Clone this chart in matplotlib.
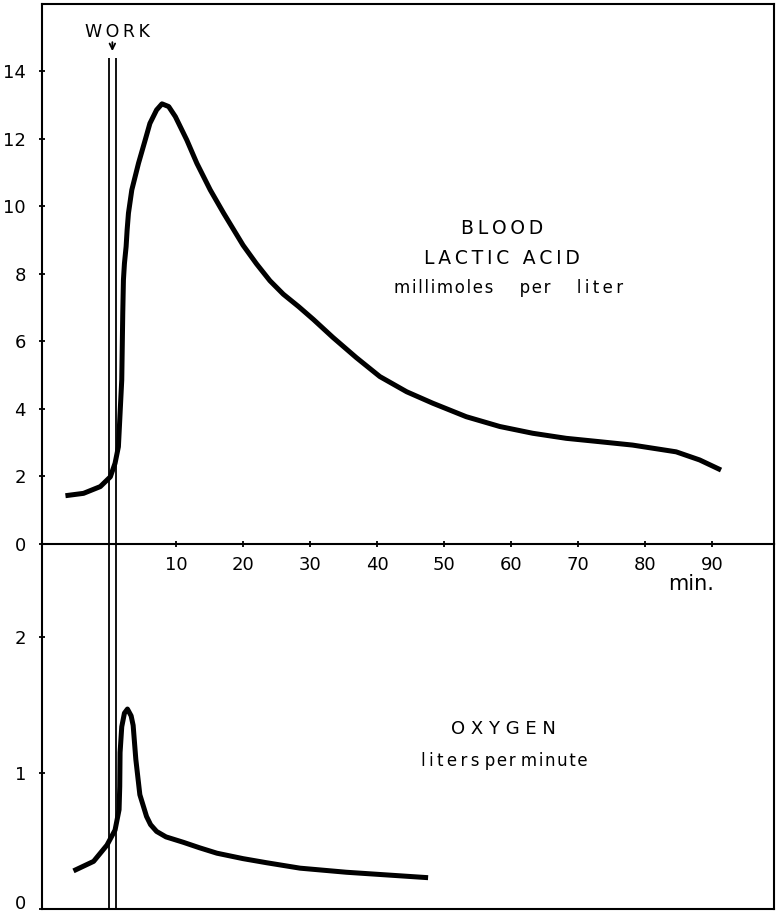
import matplotlib
matplotlib.use('Agg')
import matplotlib.pyplot as plt
from matplotlib.transforms import ScaledTranslation

# blood lactic acid, millimoles per liter (minutes from start of work)
lactic_t = [-6.5, -3.8, -1.3, 0.2, 0.9, 1.4, 1.9, 2.05, 2.15, 2.3, 2.55, 2.7, 2.9, 3.4, 4.4,
            5.4, 6.1, 7.1, 7.9, 8.9, 9.9, 11.6, 13.1, 15.1, 17.1, 20.0, 22.0, 24.0, 26.0, 28.3,
            30.5, 33.4, 36.9, 40.4, 44.4, 48.3, 53.3, 58.3, 63.2, 68.2, 73.2, 78.1, 84.6,
            88.1, 91.3]
lactic_v = [1.43, 1.50, 1.70, 1.99, 2.39, 2.88, 4.86, 6.84, 7.82, 8.31, 8.81, 9.30, 9.80, 10.49, 11.28,
            11.97, 12.46, 12.86, 13.04, 12.96, 12.66, 11.97, 11.28, 10.49, 9.80, 8.85, 8.30, 7.80, 7.40, 7.03,
            6.65, 6.12, 5.52, 4.96, 4.51, 4.17, 3.77, 3.48, 3.28, 3.13, 3.03, 2.93, 2.73,
            2.49, 2.19]

# oxygen, liters per minute
oxygen_t = [-5.3, -2.3, -0.3, 0.9, 1.5, 1.6, 1.65, 1.9, 2.3, 2.75, 3.3, 3.6, 4.0, 4.6,
            5.6, 6.2, 7.1, 8.5, 11.1, 13.5, 16.1, 20.0, 23.5, 28.5, 35.4, 47.6]
oxygen_v = [0.28, 0.35, 0.47, 0.58, 0.73, 0.90, 1.15, 1.34, 1.44, 1.47, 1.42, 1.35, 1.10, 0.84,
            0.68, 0.62, 0.57, 0.53, 0.49, 0.45, 0.41, 0.37, 0.34, 0.30, 0.27, 0.23]

lactic_ticks = [0, 2, 4, 6, 8, 10, 12, 14]
oxygen_ticks = [0, 1, 2]
minute_ticks = [10, 20, 30, 40, 50, 60, 70, 80, 90]
work_start, work_end = 0, 1

plt.rcParams['font.family'] = ['DejaVu Sans']


def spaced(s, gap='\u2009'):
    # hand-lettered labels are drawn with wide letter spacing
    return gap.join(s)


fig = plt.figure(figsize=(7.76, 9.15), dpi=100)
top = fig.add_axes([0.0541, 0.4055, 0.9433, 0.5902])
bot = fig.add_axes([0.0541, 0.0066, 0.9433, 0.3989])
bot.patch.set_visible(False)

xlim = (-10, 99.2)
lw_axis = 1.5

# upper panel
top.plot(lactic_t, lactic_v, color='black', lw=3.6, solid_capstyle='butt', solid_joinstyle='round')
top.set_xlim(*xlim)
top.set_ylim(0, 16)
top.set_yticks(lactic_ticks)
top.set_xticks(minute_ticks)
top.tick_params(axis='both', direction='inout', length=5, width=1.3, labelsize=13, color='black')
top.tick_params(axis='y', pad=9)
top.tick_params(axis='x', pad=6)
for s in top.spines.values():
    s.set_linewidth(lw_axis)
top.vlines([work_start, work_end], 0, 14.4, color='black', lw=1.3)
top.annotate('', xy=(0.5, 14.52), xytext=(0.5, 14.95),
             arrowprops=dict(arrowstyle='->', lw=1.3, color='black', mutation_scale=10))
top.text(1.2, 15.17, spaced('WORK'), ha='center', va='center', fontsize=12.5)
top.text(58.6, 9.36, spaced('BLOOD'), ha='center', va='center', fontsize=13.5)
top.text(58.6, 8.47, spaced('LACTIC ACID'), ha='center', va='center', fontsize=13.5)
top.text(59.6, 7.58, spaced('millimoles', '\u200a') + '     ' + spaced('per', '\u200a') + '     '
         + spaced('liter', '\u2009'), ha='center', va='center', fontsize=12)
top.text(86.9, -1.2, 'min.', ha='center', va='center', fontsize=15)

# lower panel
bot.plot(oxygen_t, oxygen_v, color='black', lw=3.6, solid_capstyle='butt', solid_joinstyle='round')
bot.set_xlim(*xlim)
bot.set_ylim(0, 2.684)
bot.set_yticks(oxygen_ticks)
bot.set_xticks([])
bot.tick_params(axis='y', direction='inout', length=5, width=1.3, labelsize=13, pad=9)
bot.spines['top'].set_visible(False)
for s in ['left', 'right', 'bottom']:
    bot.spines[s].set_linewidth(lw_axis)
bot.axvline(work_start, color='black', lw=1.3)
bot.axvline(work_end, color='black', lw=1.3)
bot.text(58.9, 1.32, 'O X Y G E N', ha='center', va='center', fontsize=13)
bot.text(58.9, 1.09, spaced('liters', '\u2009') + ' ' + spaced('per', '\u200a') + ' '
         + spaced('minute', '\u200a'), ha='center', va='center', fontsize=12)

# keep the bottom "0" inside the figure edge
fig.canvas.draw()
zero_label = bot.get_yticklabels()[0]
zero_label.set_transform(zero_label.get_transform() + ScaledTranslation(0, 5 / 72, fig.dpi_scale_trans))

fig.savefig('out.png', dpi=100)
